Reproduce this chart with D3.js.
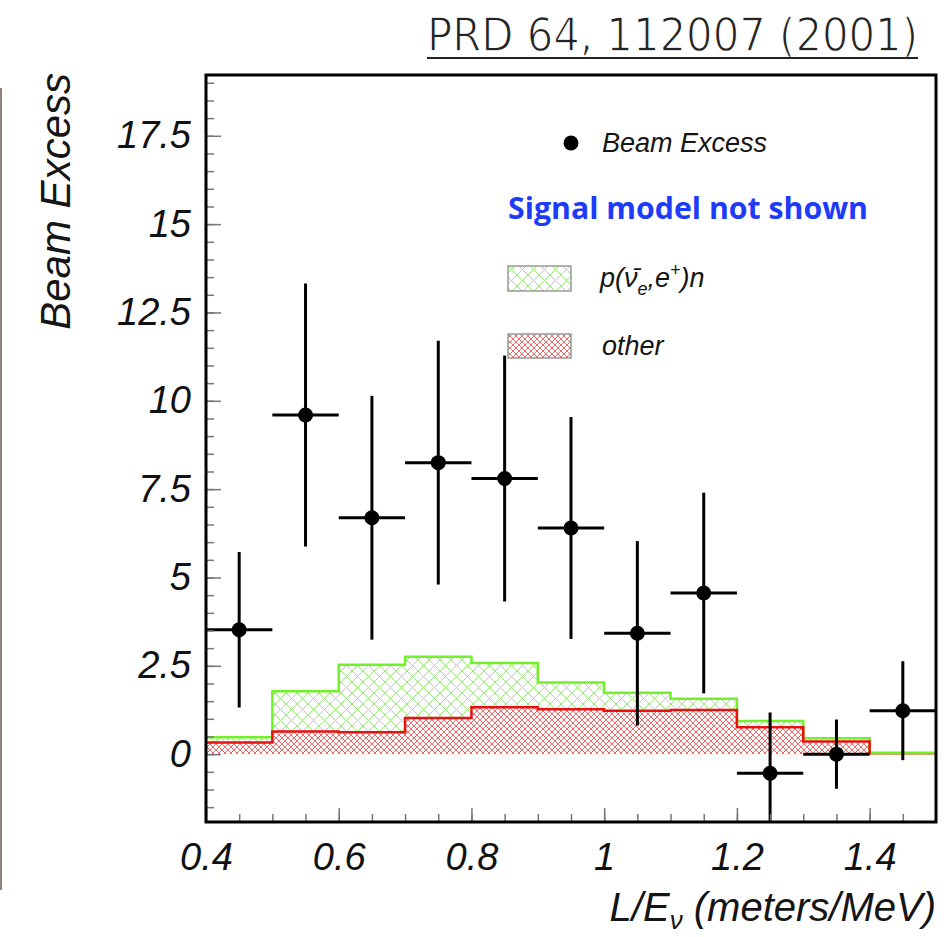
<!DOCTYPE html>
<html lang="en">
<head>
<meta charset="UTF-8">
<title>Beam Excess vs L/E</title>
<style>
  html, body { margin: 0; padding: 0; background: #fff; }
  svg { display: block; background: #fff; }
  .axis text { font-family: "Liberation Sans", Arial, sans-serif; font-style: italic; font-size: 38px; fill: #111; }
  .axis line { stroke: #777; stroke-width: 1.5; }
  .axis path { display: none; }
  .lbl { font-family: "Liberation Sans", Arial, sans-serif; font-style: italic; fill: #151515; }
</style>
</head>
<body>
<svg width="949" height="937"></svg>
<script src="https://d3js.org/d3.v7.min.js"></script>
<script>
  // bins of L/E (lower edges), width 0.1
  const binLow = [0.4, 0.5, 0.6, 0.7, 0.8, 0.9, 1.0, 1.1, 1.2, 1.3, 1.4];
  const binWidth = 0.1;
  const beamExcess = [3.52, 9.6, 6.69, 8.25, 7.8, 6.4, 3.42, 4.56, -0.54, 0.0, 1.23];
  const beamError = [2.2, 3.72, 3.45, 3.45, 3.48, 3.14, 2.61, 2.84, 1.72, 0.98, 1.4];
  // stacked: p(nubar_e, e+)n on top of "other"
  const totalBkg = [0.48, 1.78, 2.53, 2.76, 2.58, 2.03, 1.74, 1.57, 0.94, 0.45, 0.04];
  const otherBkg = [0.33, 0.64, 0.62, 1.02, 1.33, 1.27, 1.23, 1.25, 0.76, 0.36, 0.0];

  const xTicks = [0.4, 0.6, 0.8, 1.0, 1.2, 1.4];
  const xTickLabels = ["0.4", "0.6", "0.8", "1", "1.2", "1.4"];
  const yTicks = [0, 2.5, 5, 7.5, 10, 12.5, 15, 17.5];
  const yTickLabels = ["0", "2.5", "5", "7.5", "10", "12.5", "15", "17.5"];

  const svg = d3.select("svg");
  const padL = 206, padR = 936, padT = 75, padB = 822;

  const x = d3.scaleLinear().domain([0.4, 1.5]).range([padL, padR]);
  const y = d3.scaleLinear().domain([-1.92, 19.22]).range([padB, padT]);

  const defs = svg.append("defs");
  defs.append("clipPath").attr("id", "plotClip")
    .append("rect").attr("x", padL).attr("y", padT).attr("width", padR - padL).attr("height", padB - padT);

  // hatch patterns
  const gp = defs.append("pattern").attr("id", "greenHatch")
    .attr("patternUnits", "userSpaceOnUse").attr("width", 11).attr("height", 11);
  gp.append("path").attr("d", "M0,0 L11,11 M11,0 L0,11")
    .attr("stroke", "#9be87a").attr("stroke-width", 1).attr("fill", "none");

  const rp = defs.append("pattern").attr("id", "redHatch")
    .attr("patternUnits", "userSpaceOnUse").attr("width", 6).attr("height", 6);
  rp.append("path").attr("d", "M0,0 L6,6 M6,0 L0,6")
    .attr("stroke", "#f06a6a").attr("stroke-width", 1).attr("fill", "none");

  // thin strip at far left edge
  svg.append("line").attr("x1", 1).attr("x2", 1).attr("y1", 88).attr("y2", 890)
    .attr("stroke", "#8f837b").attr("stroke-width", 2);

  // title (thin, condensed look)
  svg.append("text")
    .attr("x", 427).attr("y", 51)
    .attr("textLength", 491).attr("lengthAdjust", "spacingAndGlyphs")
    .style("font-family", "'DejaVu Sans Condensed', 'Liberation Sans Narrow', 'DejaVu Sans', sans-serif")
    .style("font-size", "47px")
    .style("fill", "#222")
    .style("stroke", "#fff").style("stroke-width", 1.3)
    .text("PRD 64, 112007 (2001)");
  svg.append("line").attr("x1", 427).attr("x2", 918).attr("y1", 58).attr("y2", 58)
    .attr("stroke", "#222").attr("stroke-width", 2);

  const plot = svg.append("g").attr("clip-path", "url(#plotClip)");

  const steps = vals => binLow.map((lo, i) => ({ x: lo, v: vals[i], o: otherBkg[i] }))
    .concat([{ x: binLow[binLow.length - 1] + binWidth, v: vals[vals.length - 1], o: otherBkg[otherBkg.length - 1] }]);

  const totalSteps = steps(totalBkg);
  const otherSteps = steps(otherBkg);

  // green: between other and total
  plot.append("path").datum(totalSteps)
    .attr("d", d3.area().curve(d3.curveStepAfter).x(d => x(d.x)).y0(d => y(d.o)).y1(d => y(d.v)))
    .attr("fill", "url(#greenHatch)");
  // red: other from zero
  plot.append("path").datum(otherSteps)
    .attr("d", d3.area().curve(d3.curveStepAfter).x(d => x(d.x)).y0(y(0)).y1(d => y(d.v)))
    .attr("fill", "url(#redHatch)");

  const stepLine = d3.line().curve(d3.curveStepAfter).x(d => x(d.x)).y(d => y(d.v));
  plot.append("path").datum(totalSteps).attr("d", stepLine)
    .attr("fill", "none").attr("stroke", "#72f02a").attr("stroke-width", 2.5);
  // red outline stops where "other" reaches zero; a thin tan line continues on the baseline
  const redSteps = otherSteps.filter((d, i) => i < otherSteps.length - 1 || otherBkg[otherBkg.length - 1] > 0);
  plot.append("path").datum(otherSteps.slice(-2).map(d => ({ x: d.x, v: 0 })))
    .attr("d", stepLine)
    .attr("fill", "none").attr("stroke", "#d8a070").attr("stroke-width", 1.5);
  plot.append("path").datum(redSteps.slice(0, -1).concat([{ x: redSteps[redSteps.length - 1].x, v: 0 }]))
    .attr("d", stepLine)
    .attr("fill", "none").attr("stroke", "#e81010").attr("stroke-width", 2.5);

  // data points with error bars
  const pts = binLow.map((lo, i) => ({ lo: lo, v: beamExcess[i], e: beamError[i] }));
  const pg = plot.selectAll(".pt").data(pts).enter().append("g").attr("class", "pt");
  pg.append("line")
    .attr("x1", d => x(d.lo)).attr("x2", d => x(d.lo + binWidth))
    .attr("y1", d => y(d.v)).attr("y2", d => y(d.v))
    .attr("stroke", "#000").attr("stroke-width", 3);
  pg.append("line")
    .attr("x1", d => x(d.lo + binWidth / 2)).attr("x2", d => x(d.lo + binWidth / 2))
    .attr("y1", d => y(d.v - d.e)).attr("y2", d => y(d.v + d.e))
    .attr("stroke", "#000").attr("stroke-width", 3);
  pg.append("circle")
    .attr("cx", d => x(d.lo + binWidth / 2)).attr("cy", d => y(d.v))
    .attr("r", 7.5).attr("fill", "#000");

  // axes (ticks inward)
  svg.append("g").attr("class", "axis")
    .attr("transform", `translate(${padL},0)`)
    .call(d3.axisLeft(y).tickValues(d3.range(-1.5, 19.01, 0.5)).tickSize(-8).tickFormat(""));
  svg.append("g").attr("class", "axis")
    .attr("transform", `translate(${padL},0)`)
    .call(d3.axisLeft(y).tickValues(yTicks).tickSize(-15).tickPadding(15).tickFormat((d, i) => yTickLabels[i]));

  svg.append("g").attr("class", "axis")
    .attr("transform", `translate(0,${padB})`)
    .call(d3.axisBottom(x).tickValues(d3.range(0.45, 1.49, 0.05)).tickSize(-8).tickFormat(""));
  svg.append("g").attr("class", "axis")
    .attr("transform", `translate(0,${padB})`)
    .call(d3.axisBottom(x).tickValues(xTicks).tickSize(-14).tickPadding(21).tickFormat((d, i) => xTickLabels[i]));

  // frame
  svg.append("rect")
    .attr("x", padL).attr("y", padT).attr("width", padR - padL).attr("height", padB - padT)
    .attr("fill", "none").attr("stroke", "#000").attr("stroke-width", 3);

  // axis titles
  svg.append("text").attr("class", "lbl")
    .attr("transform", "translate(70,73) rotate(-90)")
    .attr("text-anchor", "end")
    .style("font-size", "42px")
    .text("Beam Excess");

  const xl = svg.append("text").attr("class", "lbl")
    .attr("x", 936).attr("y", 921).attr("text-anchor", "end")
    .style("font-size", "40px");
  xl.append("tspan").text("L/E");
  xl.append("tspan").attr("dy", 8).style("font-size", "26px").text("\u03bd");
  xl.append("tspan").attr("dy", -8).text(" (meters/MeV)");

  // legend
  svg.append("circle").attr("cx", 571).attr("cy", 143).attr("r", 7.5).attr("fill", "#000");
  svg.append("text").attr("class", "lbl").attr("x", 602).attr("y", 152)
    .style("font-size", "27px").text("Beam Excess");

  svg.append("text").attr("x", 508).attr("y", 219)
    .attr("textLength", 360).attr("lengthAdjust", "spacingAndGlyphs")
    .style("font-family", "'Open Sans', Lato, sans-serif")
    .style("font-weight", "bold").style("font-size", "30px")
    .style("fill", "#1e3cf8")
    .text("Signal model not shown");

  svg.append("rect").attr("x", 508).attr("y", 266).attr("width", 63).attr("height", 25)
    .attr("fill", "url(#greenHatch)").attr("stroke", "#999").attr("stroke-width", 1.5);
  const pl = svg.append("text").attr("class", "lbl").attr("x", 600).attr("y", 287)
    .style("font-size", "27px");
  pl.append("tspan").text("p(\u03bd\u0304");
  pl.append("tspan").attr("dy", 8).style("font-size", "18px").text("e");
  pl.append("tspan").attr("dy", -8).text(",e");
  pl.append("tspan").attr("dy", -11).style("font-size", "18px").text("+");
  pl.append("tspan").attr("dy", 11).text(")n");

  svg.append("rect").attr("x", 508).attr("y", 334).attr("width", 63).attr("height", 24)
    .attr("fill", "url(#redHatch)").attr("stroke", "#999").attr("stroke-width", 1.5);
  svg.append("text").attr("class", "lbl").attr("x", 602).attr("y", 355)
    .style("font-size", "27px").text("other");
</script>
</body>
</html>
